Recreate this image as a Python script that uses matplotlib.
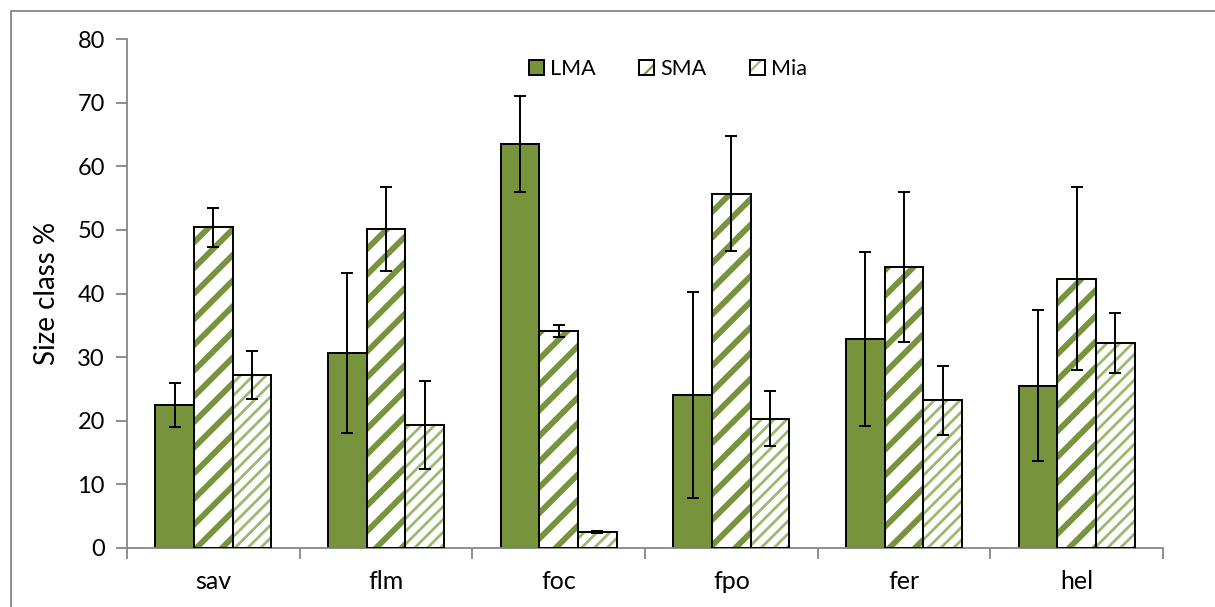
"""Size class bar chart: LMA / SMA / Mia by site, with error bars."""

import matplotlib
matplotlib.use("Agg")
import matplotlib.pyplot as plt
import numpy as np
from matplotlib.patches import Rectangle

plt.rcParams["font.family"] = ["Lato", "DejaVu Sans"]

# данные
sites = ["sav", "flm", "foc", "fpo", "fer", "hel"]
lma = [22.5, 30.6, 63.5, 24.0, 32.8, 25.5]
sma = [50.4, 50.2, 34.1, 55.7, 44.1, 42.3]
mia = [27.2, 19.3, 2.5, 20.3, 23.2, 32.2]
lma_err = [3.5, 12.6, 7.5, 16.2, 13.7, 11.9]
sma_err = [3.1, 6.6, 0.95, 9.0, 11.8, 14.4]
mia_err = [3.8, 6.9, 0.2, 4.3, 5.4, 4.7]

GREEN = "#77933C"
LIGHT = "#9DB872"
AXIS = "#868686"

# dpi побольше, чтобы штриховка была плотнее; размеры в pt пересчитываем
DPI = 154
S = 100 / DPI


def pt(v):
    return v * S


def hatch_lw(patches, lw):
    for p in patches:
        if hasattr(p, "set_hatch_linewidth"):
            p.set_hatch_linewidth(lw)
        else:
            p._hatch_linewidth = lw


fig = plt.figure(figsize=(1215 / DPI, 607 / DPI), dpi=DPI)
ax = fig.add_axes([127 / 1215, 1 - 548 / 607, 1036 / 1215, 509 / 607])

# внешняя рамка (обрезана справа и снизу)
fig.patches.append(Rectangle((11 / 1215, -0.1), 1.2, 1 - 11 / 607 + 0.1,
                             transform=fig.transFigure, fill=False,
                             edgecolor=AXIS, linewidth=pt(1.3)))

x = np.arange(len(sites)) + 0.5
w = 0.224
err_kw = dict(ecolor="black", elinewidth=pt(1.4), capsize=pt(4), capthick=pt(1.4))

ax.bar(x - w, lma, w, color=GREEN, edgecolor="black", linewidth=pt(1.4),
       zorder=2)

b_sma = ax.bar(x, sma, w, color="white", edgecolor=GREEN, hatch="//", linewidth=0, zorder=2)
hatch_lw(b_sma, pt(4.2))
b_mia = ax.bar(x + w, mia, w, color="white", edgecolor=LIGHT, hatch="////", linewidth=0, zorder=2)
hatch_lw(b_mia, pt(2.0))

# чёрные контуры поверх штриховки
ax.bar(x, sma, w, fill=False, edgecolor="black", linewidth=pt(1.4), zorder=3)
ax.bar(x + w, mia, w, fill=False, edgecolor="black", linewidth=pt(1.4), zorder=3)

ax.errorbar(x - w, lma, yerr=lma_err, fmt="none", zorder=4, **err_kw)
ax.errorbar(x, sma, yerr=sma_err, fmt="none", zorder=4, **err_kw)
ax.errorbar(x + w, mia, yerr=mia_err, fmt="none", zorder=4, **err_kw)

ax.set_xlim(0, len(sites))
ax.set_ylim(0, 80)
ax.set_yticks(np.arange(0, 81, 10))
ax.set_xticks(np.arange(0, len(sites) + 1))
ax.set_xticklabels([])
ax.set_xticks(x, minor=True)
ax.set_xticklabels(sites, minor=True, fontsize=pt(18))
ax.tick_params(axis="x", which="minor", length=0, pad=pt(16))
ax.tick_params(axis="x", which="major", length=pt(8), width=pt(1.3), color=AXIS)
ax.tick_params(axis="y", length=pt(8), width=pt(1.3), color=AXIS,
               labelsize=pt(17), pad=pt(8))

for side in ("top", "right"):
    ax.spines[side].set_visible(False)
for side in ("left", "bottom"):
    ax.spines[side].set_color(AXIS)
    ax.spines[side].set_linewidth(pt(1.3))

ax.set_ylabel("Size class %", fontsize=pt(20), labelpad=pt(12))

# легенда: отдельные хэндлы
h_lma = Rectangle((0, 0), 1, 1, facecolor=GREEN, edgecolor="black", linewidth=pt(1.4))
h_sma = Rectangle((0, 0), 1, 1, facecolor="white", edgecolor=GREEN, hatch="/", linewidth=0)
h_sma_e = Rectangle((0, 0), 1, 1, fill=False, edgecolor="black", linewidth=pt(1.4))
h_mia = Rectangle((0, 0), 1, 1, facecolor="white", edgecolor=LIGHT, hatch="//", linewidth=0)
h_mia_e = Rectangle((0, 0), 1, 1, fill=False, edgecolor="black", linewidth=pt(1.4))
hatch_lw([h_sma], pt(3.0))
hatch_lw([h_mia], pt(1.5))
ax.legend([h_lma, (h_sma, h_sma_e), (h_mia, h_mia_e)], ["LMA", "SMA", "Mia"],
          loc="center", bbox_to_anchor=(668 / 1215, 1 - 69 / 607),
          bbox_transform=fig.transFigure, ncol=3, frameon=False, fontsize=pt(15.5),
          handlelength=0.7, handleheight=0.7, handletextpad=0.3,
          columnspacing=2.0)

fig.savefig("out.png", dpi=DPI)
